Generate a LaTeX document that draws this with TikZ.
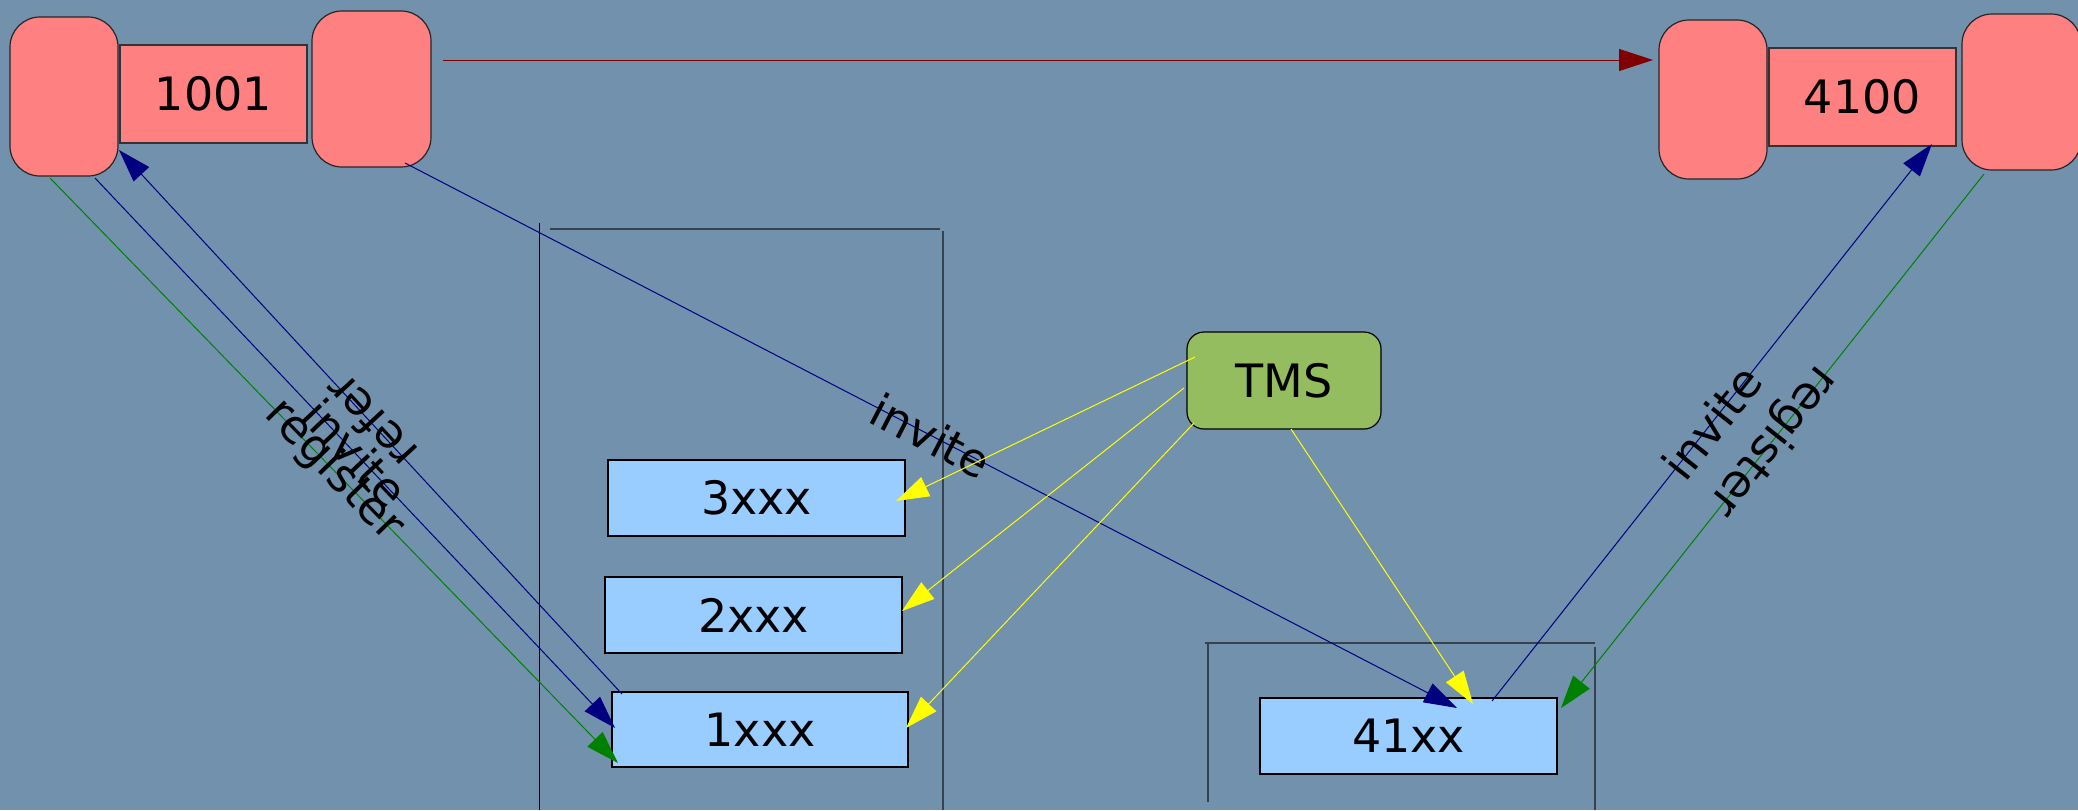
\documentclass[tikz,border=0pt]{standalone}
\usepackage{fontspec}
\setmainfont{DejaVu Sans}
\usetikzlibrary{arrows.meta}

\definecolor{bg}{HTML}{7191AC}
\definecolor{phone}{HTML}{FF8080}
\definecolor{ext}{HTML}{99CCFF}
\definecolor{tmsgreen}{HTML}{93BD5E}
\definecolor{navy}{HTML}{000080}
\definecolor{sipgreen}{HTML}{008000}
\definecolor{maroon}{HTML}{800000}
\definecolor{sipyellow}{HTML}{FFFF00}
\definecolor{frame}{HTML}{36424E}

\begin{document}
\begin{tikzpicture}[x=0.5pt,y=-0.5pt,
  every node/.style={font=\fontsize{23}{28}\selectfont, inner sep=0pt, outer sep=0pt},
  handset/.style={draw=black!85, line width=0.6pt, fill=phone, rounded corners=15pt,
                  minimum width=54pt, minimum height=79.5pt},
  handsetb/.style={handset, minimum width=59.5pt, minimum height=78pt},
  numbox/.style={draw=black!80, line width=0.6pt, fill=phone,
                 minimum width=93.5pt, minimum height=49pt},
  extbox/.style={draw=black, line width=0.6pt, fill=ext,
                 minimum width=148.5pt, minimum height=38pt},
  server/.style={draw=black, line width=0.6pt, fill=tmsgreen, rounded corners=8.5pt,
                 minimum width=97pt, minimum height=48.5pt},
  msg/.style={line width=0.5pt, -{Triangle[length=16.5pt,width=10.5pt]}},
  lbl/.style={sloped, allow upside down, pos=0.5, text=black},
  wall/.style={draw=frame, line width=1pt},
]
% canvas
\useasboundingbox (0,0) rectangle (2078,810);
\clip (0,0) rectangle (2078,810);
\fill[bg] (0,0) rectangle (2078,810);

% group boundaries
\draw[black, line width=0.5pt] (539,223) -- (539,810);
\draw[wall] (550,229) -- (940,229);
\draw[wall] (943,231) -- (943,810);
\draw[wall] (1205,643) -- (1595,643);
\draw[wall] (1208,643) -- (1208,802);
\draw[wall] (1595,647) -- (1595,810);

% phone 1001
\node[handset]  (L1)    at (64,96.5)    {};
\node[numbox]   (N1001) at (213.5,94)   {1001};
\node[handsetb] (R1)    at (371.5,89)   {};

% phone 4100
\node[handset]  (L4)    at (1713,99.5)  {};
\node[numbox]   (N4100) at (1862.5,97)  {4100};
\node[handsetb] (R4)    at (2021.5,92)  {};

% routing server
\node[server] (TMS) at (1284,380.5) {TMS};

% extension ranges
\node[extbox] (B3)  at (756.5,498)  {3xxx};
\node[extbox] (B2)  at (753.5,615)  {2xxx};
\node[extbox, minimum width=148pt, minimum height=37.5pt] (B1) at (760,729.5) {1xxx};
\node[extbox] (B41) at (1408.5,736) {41xx};

% call from 1001 to 4100
\draw[msg, draw=maroon, -{Triangle[length=17pt,width=11pt]}]
  ([xshift=6pt,yshift=14.5pt]R1.east) -- ([xshift=-3pt,yshift=19.75pt]L4.west);

% 1001 <-> 1xxx
\draw[msg, draw=sipgreen]
  ([xshift=-7pt,yshift=-1pt]L1.south) -- node[lbl] {register}
  ([xshift=3pt,yshift=2pt]B1.south west);
\draw[msg, draw=navy]
  ([xshift=15.5pt,yshift=-1pt]L1.south) -- node[lbl] {invite}
  ([xshift=1.5pt,yshift=0.75pt]B1.west);
\draw[msg, draw=navy]
  ([xshift=5pt,yshift=-1pt]B1.north west) -- node[lbl] {refer}
  ([xshift=0.5pt,yshift=13pt]L1.south east);

% 1001 -> 41xx
\draw[msg, draw=navy]
  ([xshift=16.75pt,yshift=2pt]R1.south) -- node[lbl] {invite}
  ([xshift=24.25pt,yshift=-5pt]B41.north);

% 4100 <-> 41xx
\draw[msg, draw=navy]
  ([xshift=41.75pt,yshift=-1.5pt]B41.north) -- node[lbl] {invite}
  ([xshift=34.75pt,yshift=1pt]N4100.south);
\draw[msg, draw=sipgreen]
  ([xshift=-18.75pt,yshift=-2pt]R4.south) -- node[lbl] {register}
  ([xshift=2pt,yshift=-5pt]B41.north east);

% TMS routing
\draw[msg, draw=sipyellow]
  ([xshift=4pt,yshift=11.75pt]TMS.west) -- ([xshift=-4.5pt,yshift=-1.5pt]B3.east);
\draw[msg, draw=sipyellow]
  ([xshift=-1.5pt,yshift=-3.75pt]TMS.west) -- ([yshift=2pt]B2.east);
\draw[msg, draw=sipyellow]
  ([xshift=3.5pt,yshift=3pt]TMS.south west) -- ([xshift=-1pt,yshift=0.75pt]B1.east);
\draw[msg, draw=sipyellow]
  ([xshift=3.5pt]TMS.south) -- ([xshift=32.25pt,yshift=-3pt]B41.north);
\end{tikzpicture}
\end{document}
